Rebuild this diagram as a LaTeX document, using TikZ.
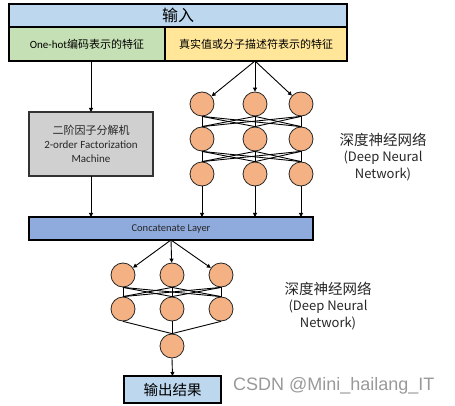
\documentclass[tikz,border=0pt]{standalone}
\usepackage{fontspec}
\setmainfont{Carlito}
\newfontfamily\cjk{Noto Sans CJK SC}
\newfontfamily\wmfont{Liberation Sans}
\usetikzlibrary{arrows.meta}
\definecolor{titleblue}{HTML}{BDD7EE}
\definecolor{cellgreen}{HTML}{C5E0B4}
\definecolor{cellyellow}{HTML}{FFE699}
\definecolor{fmgray}{HTML}{D0D0D0}
\definecolor{concatblue}{HTML}{8FAADC}
\definecolor{neuron}{HTML}{F4B183}
\tikzset{
  box/.style={draw=black, line width=1.6pt, inner sep=0pt, outer sep=0pt},
  neur/.style={circle, fill=neuron, draw=black!85, line width=0.8pt, minimum size=24pt, inner sep=0pt},
  conn/.style={line width=0.9pt, black},
  arr/.style={line width=0.9pt, black, -{Triangle[length=4pt,width=4pt]}},
  dnnlabel/.style={align=center, font=\cjk\fontsize{13}{16.5}\selectfont, text=black!85},
}
\begin{document}
\begin{tikzpicture}[x=1pt,y=-1pt]
\useasboundingbox (0,0) rectangle (455,406);
% input block
\node[box, fill=titleblue, minimum width=338pt, minimum height=23pt, font=\cjk\fontsize{16}{18}\selectfont] (title) at (178,15.5) {输入};
\node[box, fill=cellgreen, minimum width=156pt, minimum height=34pt, font=\fontsize{11}{13}\selectfont] (left) at (87,44) {One-hot{\cjk 编码表示的特征}};
\node[box, fill=cellyellow, minimum width=182pt, minimum height=34pt, font=\cjk\fontsize{11}{13}\selectfont] (right) at (256,44) {真实值或分子描述符表示的特征};
% FM
\node[box, draw=black!80, fill=fmgray, minimum width=124pt, minimum height=64pt, align=center, font=\fontsize{11}{14}\selectfont, text=black!85] (fm) at (91,144) {{\cjk 二阶因子分解机}\\2-order Factorization\\Machine};
% DNN 1
\foreach \c/\x in {1/202,2/255,3/301}{
  \foreach \r/\y in {1/104,2/139,3/174}{
    \node[neur] (a\r\c) at (\x,\y) {};
  }
}
% concat
\node[box, fill=concatblue, minimum width=284pt, minimum height=23pt, font=\fontsize{10.5}{12}\selectfont, text=black!85] (concat) at (171,228.5) {Concatenate Layer};
% DNN 2
\foreach \c/\x in {1/123,2/172,3/221}{
  \node[neur] (b1\c) at (\x,275) {};
  \node[neur] (b2\c) at (\x,309) {};
}
\node[neur] (out) at (172,346) {};
\node[box, fill=titleblue, minimum width=97pt, minimum height=27pt, font=\cjk\fontsize{14.5}{16}\selectfont] (result) at (172.5,389.5) {输出结果};
% connectors
\draw[arr] (fm.north |- left.south) -- (fm.north);
\draw[arr] (fm.south) -- (fm.south |- concat.north);
\coordinate (src1) at (a12.north |- right.south);
\foreach \c in {1,2,3}{
  \draw[arr] (src1) -- (a1\c);
  \draw[arr] (a3\c.south) -- (a3\c.south |- concat.north);
  \draw[arr] (concat.south) -- (b1\c);
  \draw[conn] (b2\c.south) -- (out.north);
  \foreach \d in {1,2,3}{
    \draw[conn] (a1\c.south) -- (a2\d.north);
    \draw[conn] (a2\c.south) -- (a3\d.north);
    \draw[conn] (b1\c.south) -- (b2\d.north);
  }
}
\draw[arr] (out.south) -- (result.north);
% labels
\node[dnnlabel] (lab1) at (383,157) {{\fontsize{14.5}{16.5}\selectfont 深度神经网络}\\(Deep Neural\\Network)};
\node[dnnlabel] (lab2) at (328,306) {{\fontsize{14.5}{16.5}\selectfont 深度神经网络}\\(Deep Neural\\Network)};
% watermark
\node[anchor=base west, inner sep=0pt, font=\wmfont\fontsize{18}{20}\selectfont, text=black!40] (wm) at (233,390) {CSDN @Mini\_hailang\_IT};
\end{tikzpicture}
\end{document}
